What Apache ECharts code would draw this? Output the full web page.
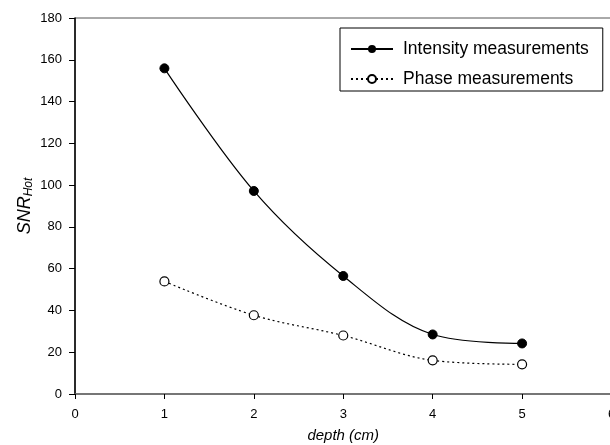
<!DOCTYPE html>
<html>
<head>
<meta charset="utf-8">
<script src="https://cdn.jsdelivr.net/npm/echarts@6/dist/echarts.min.js"></script>
<style>
  html, body { margin: 0; padding: 0; background: #fff; }
  #chart { width: 610px; height: 445px; }
</style>
</head>
<body>
<div id="chart"></div>
<script>
const depths = [1, 2, 3, 4, 5];
const intensity = [155.9, 97.2, 56.5, 28.5, 24.2];
const phase = [53.9, 37.7, 28.0, 16.1, 14.2];
const seriesNames = ['Intensity measurements', 'Phase measurements'];

const font = 'Liberation Sans, Arial, sans-serif';
const chart = echarts.init(document.getElementById('chart'));

const option = {
  animation: false,
  backgroundColor: '#fff',
  grid: {
    left: 75, top: 18, width: 536.5, height: 376,
    outerBoundsMode: 'none', containLabel: false,
    show: true, borderColor: '#555', borderWidth: 1
  },
  legend: {
    orient: 'vertical',
    left: 340, top: 28,
    padding: [12, 14, 3, 10],
    itemGap: 12,
    itemWidth: 42, itemHeight: 10,
    borderColor: '#000', borderWidth: 1,
    textStyle: { fontFamily: font, fontSize: 17.5, color: '#000', padding: [0, 0, 0, 5] },
    data: seriesNames
  },
  xAxis: {
    type: 'value', min: 0, max: 6, interval: 1,
    name: 'depth (cm)', nameLocation: 'middle', nameGap: 34,
    nameMoveOverlap: false,
    nameTextStyle: { fontFamily: font, fontSize: 15, fontStyle: 'italic', color: '#000' },
    axisLine: { lineStyle: { color: '#666', width: 1.5 } },
    axisTick: { length: 5, lineStyle: { color: '#000' } },
    axisLabel: { margin: 14, fontFamily: font, fontSize: 13, color: '#000' },
    splitLine: { show: false }
  },
  yAxis: {
    type: 'value', min: 0, max: 180, interval: 20,
    name: '{m|SNR}{s|Hot}', nameLocation: 'middle', nameGap: 40,
    nameMoveOverlap: false,
    nameTextStyle: {
      rich: {
        m: { fontFamily: font, fontSize: 18, fontStyle: 'italic', color: '#000' },
        s: { fontFamily: font, fontSize: 12, fontStyle: 'italic', color: '#000', verticalAlign: 'bottom', padding: [9, 0, 0, 0] }
      }
    },
    axisLine: { show: true, lineStyle: { color: '#000', width: 1.5 } },
    axisTick: { show: true, length: 6, lineStyle: { color: '#000' } },
    axisLabel: { margin: 13, fontFamily: font, fontSize: 13, color: '#000' },
    splitLine: { show: false }
  },
  series: [
    {
      name: seriesNames[0], type: 'line', smooth: 0.35,
      data: depths.map((d, i) => [d, intensity[i]]),
      symbol: 'circle', symbolSize: 9,
      itemStyle: { color: '#000', borderColor: '#000' },
      lineStyle: { color: '#000', width: 1.2, type: 'solid' }
    },
    {
      name: seriesNames[1], type: 'line', smooth: 0.35,
      data: depths.map((d, i) => [d, phase[i]]),
      symbol: 'circle', symbolSize: 9,
      itemStyle: { color: '#fff', borderColor: '#000', borderWidth: 1.2 },
      lineStyle: { color: '#000', width: 1.2, type: [2, 3] }
    }
  ]
};
chart.setOption(option);
</script>
</body>
</html>
